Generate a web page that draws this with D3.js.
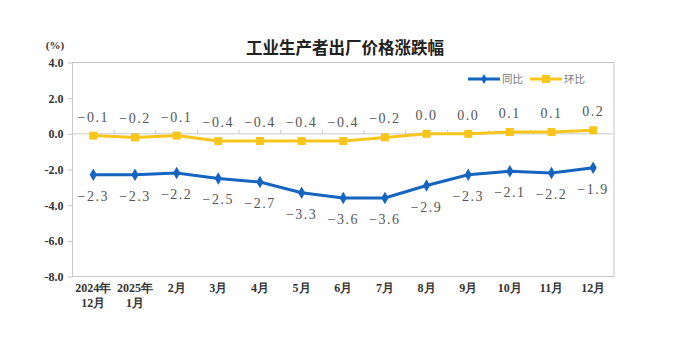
<!DOCTYPE html>
<html><head><meta charset="utf-8">
<script src="https://cdn.jsdelivr.net/npm/d3@7"></script>
<style>body{margin:0;background:#fff;}svg{display:block;}</style>
</head><body><svg id="c" width="677" height="339"></svg>
<script>
const categories = [["2024年","12月"],["2025年","1月"],["2月"],["3月"],["4月"],["5月"],["6月"],["7月"],["8月"],["9月"],["10月"],["11月"],["12月"]];
const yoyValues = [-2.3,-2.3,-2.2,-2.5,-2.7,-3.3,-3.6,-3.6,-2.9,-2.3,-2.1,-2.2,-1.9];
const momValues = [-0.1,-0.2,-0.1,-0.4,-0.4,-0.4,-0.4,-0.2,0.0,0.0,0.1,0.1,0.2];
const yTicks = [4,2,0,-2,-4,-6,-8];
const seriesNames = ["同比","环比"];
const title = "工业生产者出厂价格涨跌幅";

const svg = d3.select("#c");
const L=72.5, R=614, T=62.5, B=276.5;
const x = d3.scaleBand().domain(d3.range(categories.length)).range([L,R]);
const y = d3.scaleLinear().domain([-8,4]).range([B,T]);
const blue="#1464c0", yellow="#f7c51c";
const cx = i => x(i)+x.bandwidth()/2;

// title
svg.append("text").attr("x",345).attr("y",54).attr("text-anchor","middle")
  .attr("font-family","Noto Sans CJK SC").attr("font-weight","bold").attr("font-size",16.5).attr("fill","#222").text(title);
svg.append("text").attr("x",55).attr("y",49).attr("text-anchor","middle")
  .attr("font-family","Liberation Serif").attr("font-weight","bold").attr("font-size",11).attr("fill","#333").text("(%)");

// plot border
svg.append("rect").attr("x",L).attr("y",T).attr("width",R-L).attr("height",B-T)
  .attr("fill","none").attr("stroke","#c8c8c8").attr("stroke-width",1);

// y axis
const yAxis = d3.axisLeft(y).tickValues(yTicks).tickFormat(d=>d3.format(".1f")(d).replace("−","-")).tickSize(5).tickPadding(4);
const ya = svg.append("g").attr("transform",`translate(${L},0)`).call(yAxis);
ya.select(".domain").remove();
ya.selectAll(".tick line").attr("stroke","#c8c8c8");
ya.selectAll(".tick text").attr("font-family","Liberation Serif").attr("font-weight","bold").attr("font-size",12).attr("fill","#333");

// zero line with category ticks
svg.append("line").attr("x1",L).attr("x2",R).attr("y1",y(0)).attr("y2",y(0)).attr("stroke","#c8c8c8");
svg.append("g").selectAll("line").data(d3.range(1,categories.length)).join("line")
  .attr("x1",i=>x(i)).attr("x2",i=>x(i)).attr("y1",y(0)).attr("y2",y(0)-4).attr("stroke","#c8c8c8");

// x labels
const xl = svg.append("g");
categories.forEach((lines,i)=>{
  const t = xl.append("text").attr("text-anchor","middle").attr("font-family","Liberation Serif")
    .attr("font-weight","bold").attr("font-size",12).attr("fill","#333");
  lines.forEach((s,k)=>t.append("tspan").attr("x",cx(i)).attr("y",292+k*15).text(s));
});

// lines
const line = d3.line().x((d,i)=>cx(i)).y(d=>y(d));
svg.append("path").datum(momValues).attr("d",line).attr("fill","none").attr("stroke",yellow).attr("stroke-width",3);
svg.append("path").datum(yoyValues).attr("d",line).attr("fill","none").attr("stroke",blue).attr("stroke-width",3);

// markers
svg.append("g").selectAll("rect").data(momValues).join("rect")
  .attr("x",(d,i)=>cx(i)-4).attr("y",d=>y(d)-4).attr("width",8).attr("height",8).attr("fill",yellow);
const diamond = d3.symbol().type(d3.symbolDiamond).size(45);
svg.append("g").selectAll("path").data(yoyValues).join("path")
  .attr("d",diamond).attr("transform",(d,i)=>`translate(${cx(i)},${y(d)})`).attr("fill",blue);

// data labels
const fmt = d3.format(".1f");
svg.append("g").selectAll("text").data(momValues).join("text")
  .attr("x",(d,i)=>cx(i)).attr("y",d=>y(d)-14).attr("text-anchor","middle")
  .attr("font-family","Liberation Serif").attr("font-size",14).attr("letter-spacing",1.5).attr("fill","#555")
  .text(d=>fmt(d).replace("-","−"));
svg.append("g").selectAll("text").data(yoyValues).join("text")
  .attr("x",(d,i)=>cx(i)).attr("y",d=>y(d)+26).attr("text-anchor","middle")
  .attr("font-family","Liberation Serif").attr("font-size",14).attr("letter-spacing",1.5).attr("fill","#555")
  .text(d=>fmt(d).replace("-","−"));

// legend
const lg = svg.append("g");
[[blue,"d",468,seriesNames[0]],[yellow,"s",530,seriesNames[1]]].forEach(([c,m,lx,name])=>{
  lg.append("line").attr("x1",lx).attr("x2",lx+32).attr("y1",79).attr("y2",79).attr("stroke",c).attr("stroke-width",3);
  if(m==="d") lg.append("path").attr("d",d3.symbol().type(d3.symbolDiamond).size(30)).attr("transform",`translate(${lx+16},79)`).attr("fill",c);
  else lg.append("rect").attr("x",lx+12).attr("y",75).attr("width",8).attr("height",8).attr("fill",c);
  lg.append("text").attr("x",lx+34).attr("y",83).attr("font-family","Noto Sans CJK SC").attr("font-size",10.5).attr("fill","#777").text(name);
});
</script></body></html>
